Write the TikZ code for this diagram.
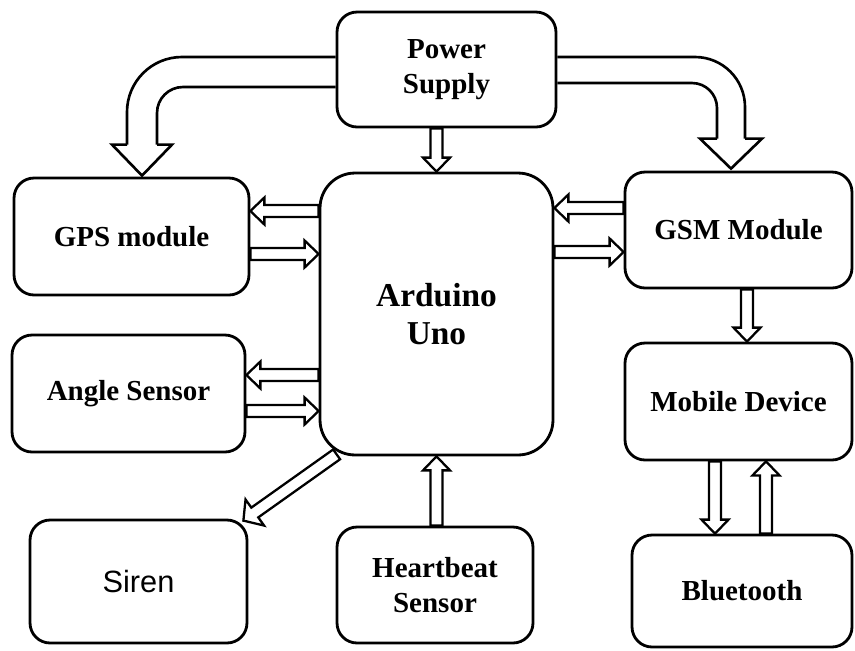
\documentclass[tikz,border=0pt]{standalone}
\usepackage{fontspec}
\setmainfont{Liberation Serif}
\newfontfamily\sirenfont{Liberation Sans}
\usetikzlibrary{calc}

\tikzset{
  shaftw/.initial=0.12cm,
  headw/.initial=0.27cm,
  headl/.initial=0.28cm,
  block/.style={draw, line width=1.6pt, rounded corners=0.4cm, align=center,
    font=\fontsize{16.5}{19.5}\selectfont\bfseries, inner sep=0pt},
  bigarrow/.style={draw, line width=1.5pt, line join=miter},
  hollow/.style={draw, line width=1.3pt, line join=miter,
    to path={let \p1=(\tikztostart), \p2=(\tikztotarget),
      \p3=($(\p2)!\pgfkeysvalueof{/tikz/headl}!(\p1)$) in
      ($(\p1)!\pgfkeysvalueof{/tikz/shaftw}!90:(\p2)$)
      -- ($(\p3)!\pgfkeysvalueof{/tikz/shaftw}!90:(\p2)$)
      -- ($(\p3)!\pgfkeysvalueof{/tikz/headw}!90:(\p2)$)
      -- (\p2)
      -- ($(\p3)!\pgfkeysvalueof{/tikz/headw}!-90:(\p2)$)
      -- ($(\p3)!\pgfkeysvalueof{/tikz/shaftw}!-90:(\p2)$)
      -- ($(\p1)!\pgfkeysvalueof{/tikz/shaftw}!-90:(\p2)$)
      -- cycle}},
}

\begin{document}
\begin{tikzpicture}[x=0.02cm, y=-0.02cm]
\useasboundingbox (0,0) rectangle (855,650);

% blocks
\node[block, minimum width=4.38cm, minimum height=2.30cm] (ps) at (446.5,69.5) {Power\\Supply};
\node[block, minimum width=4.70cm, minimum height=2.34cm] (gps) at (131.5,236.5) {GPS module};
\node[block, minimum width=4.66cm, minimum height=2.34cm] (ang) at (128.5,393.5) {Angle Sensor};
\node[block, rounded corners=0.7cm, minimum width=4.66cm, minimum height=5.64cm,
  font=\fontsize{19}{21.6}\selectfont\bfseries] (ard) at (436.5,314) {Arduino\\Uno};
\node[block, minimum width=4.54cm, minimum height=2.32cm] (gsm) at (738.5,230) {GSM Module};
\node[block, minimum width=4.54cm, minimum height=2.34cm] (mob) at (738.5,401.5) {Mobile Device};
\node[block, minimum width=4.34cm, minimum height=2.46cm,
  font=\sirenfont\fontsize{17.5}{20}\selectfont] (sir) at (138.5,581.5) {Siren};
\node[block, minimum width=3.92cm, minimum height=2.32cm] (hb) at (435,585) {Heartbeat\\Sensor};
\node[block, minimum width=4.40cm, minimum height=2.24cm] (bt) at (742,591) {Bluetooth};

% power supply to GPS and GSM
\coordinate (gpstip) at ($(gps.north)+(10.5,-1)$);
\draw[bigarrow, rounded corners=1.1cm] ($(ps.west)+(0,-12.5)$) -| ($(gpstip)+(-15,-31)$);
\draw[bigarrow, rounded corners=0.52cm] ($(ps.west)+(0,17.5)$) -| ($(gpstip)+(15,-31)$);
\draw[bigarrow] ($(gpstip)+(-15,-31)$) -- ++(-15,0) -- (gpstip) -- ($(gpstip)+(30,-31)$) -- ++(-15,0);

\coordinate (gsmtip) at ($(gsm.north)+(-7.5,-2)$);
\draw[bigarrow, rounded corners=1.0cm] ($(ps.east)+(0,-12.5)$) -| ($(gsmtip)+(14,-30)$);
\draw[bigarrow, rounded corners=0.5cm] ($(ps.east)+(0,13.5)$) -| ($(gsmtip)+(-14,-30)$);
\draw[bigarrow] ($(gsmtip)+(14,-30)$) -- ++(17,0) -- (gsmtip) -- ($(gsmtip)+(-31,-30)$) -- ++(17,0);

\draw[hollow] (ard.north |- ps.south) to (ard.north);

% Arduino links
\draw[hollow] ($(ard.west)+(0,-103)$) to ($(gps.east)+(0,-25.5)$);
\draw[hollow] ($(gps.east)+(0,17.5)$) to ($(ard.west)+(0,-60)$);
\draw[hollow] ($(ard.west)+(0,61)$) to ($(ang.east)+(0,-18.5)$);
\draw[hollow] ($(ang.east)+(0,17.5)$) to ($(ard.west)+(0,97)$);
\draw[hollow] ($(gsm.west)+(0,-22)$) to ($(ard.east)+(0,-106)$);
\draw[hollow] ($(ard.east)+(0,-62)$) to ($(gsm.west)+(0,22)$);
\draw[hollow, headw=0.32cm] ($(ard.south west)+(18,-2)$) to ($(sir.north east)+(-5,2)$);
\draw[hollow] (ard.south |- hb.north) to (ard.south);

% GSM, mobile and bluetooth
\draw[hollow] ($(gsm.south)+(8.5,0)$) to ($(mob.north)+(8.5,0)$);
\draw[hollow] ($(mob.south)+(-23.5,0)$) to ($(mob.south |- bt.north)+(-23.5,0)$);
\draw[hollow] ($(mob.south |- bt.north)+(27.5,0)$) to ($(mob.south)+(27.5,0)$);
\end{tikzpicture}
\end{document}
